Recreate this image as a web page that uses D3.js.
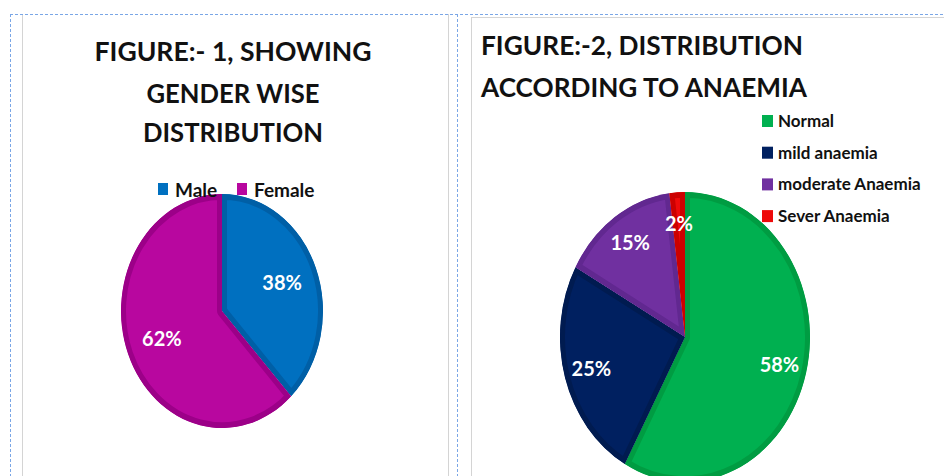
<!DOCTYPE html>
<html lang="en">
<head>
<meta charset="UTF-8">
<title>Gender and Anaemia distribution</title>
<script src="https://d3js.org/d3.v7.min.js"></script>
<style>
  body { margin: 0; background: #fff; }
  text { font-family: Lato, "Open Sans", sans-serif; font-weight: bold; }
  .title { font-size: 27px; fill: #111; }
  .legend { font-size: 17px; fill: #111; }
  .pct { font-size: 20px; fill: #fff; }
</style>
</head>
<body>
<script>
// data
var genderLabels = ["Male", "Female"];
var genderValues = [38, 62];
var anaemiaLabels = ["Normal", "mild anaemia", "moderate Anaemia", "Sever Anaemia"];
var anaemiaValues = [58, 25, 15, 2];

// palette (fill, darker edge)
var genderFill = ["#0070C0", "#B8079F"];
var genderEdge = ["#005FA6", "#9C0088"];
var anaemiaFill = ["#00B050", "#002060", "#7030A0", "#EE0A0A"];
var anaemiaEdge = ["#009C42", "#001B50", "#612890", "#CC0000"];

var width = 944, height = 476;

var svg = d3.select("body").append("svg")
    .attr("width", width)
    .attr("height", height);

var defs = svg.append("defs");

// frames
var frame = svg.append("g");
frame.append("line").attr("x1", 22.5).attr("x2", 22.5).attr("y1", 14).attr("y2", height)
    .attr("stroke", "#d4d4d4");
frame.append("line").attr("x1", 448.5).attr("x2", 448.5).attr("y1", 14).attr("y2", height)
    .attr("stroke", "#d4d4d4");
frame.append("line").attr("x1", 471.5).attr("x2", 471.5).attr("y1", 17).attr("y2", height)
    .attr("stroke", "#d4d4d4");
frame.append("line").attr("x1", 471.5).attr("x2", width).attr("y1", 17.5).attr("y2", 17.5)
    .attr("stroke", "#d4d4d4");
// dashed outline
[[10.5, 14, 10.5, height], [457.5, 14, 457.5, height], [10, 14.5, width, 14.5]].forEach(function(l) {
    frame.append("line")
        .attr("x1", l[0]).attr("y1", l[1]).attr("x2", l[2]).attr("y2", l[3])
        .attr("stroke", "#7aa6e6")
        .attr("stroke-dasharray", "3,2");
});

function drawPie(opts) {
    var pie = d3.pie().sort(null).value(function(d) { return d; });
    var arcs = pie(opts.values);
    var arc = d3.arc().innerRadius(0).outerRadius(opts.rx);
    var labelArc = d3.arc().innerRadius(opts.rx * opts.lf).outerRadius(opts.rx * opts.lf);
    var sy = opts.ry / opts.rx;

    var g = svg.append("g")
        .attr("transform", "translate(" + opts.cx + "," + opts.cy + ") scale(1," + sy + ")");

    arcs.forEach(function(d, i) {
        var id = opts.id + "-clip-" + i;
        // clip each slice to itself so the thick stroke only shows as an inner edge band
        defs.append("clipPath").attr("id", id)
          .append("path").attr("d", arc(d));
        g.append("path")
            .attr("d", arc(d))
            .attr("fill", opts.fill[i])
            .attr("stroke", opts.edge[i])
            .attr("stroke-width", 10)
            .attr("stroke-linejoin", "round")
            .attr("clip-path", "url(#" + id + ")");
    });

    // percentage labels
    svg.append("g").selectAll("text")
        .data(arcs)
        .enter().append("text")
        .attr("class", "pct")
        .attr("x", function(d) { return opts.cx + labelArc.centroid(d)[0]; })
        .attr("y", function(d) { return opts.cy + labelArc.centroid(d)[1] * sy; })
        .attr("text-anchor", "middle")
        .attr("dy", "0.35em")
        .text(function(d) { return d.data + "%"; });
}

// ---- figure 1
var t1 = [["FIGURE:- 1, SHOWING", 61, 277], ["GENDER WISE", 103, 173], ["DISTRIBUTION", 142, 180]];
t1.forEach(function(t) {
    svg.append("text").attr("class", "title")
        .attr("x", 233).attr("y", t[1])
        .attr("text-anchor", "middle")
        .attr("textLength", t[2]).attr("lengthAdjust", "spacingAndGlyphs")
        .text(t[0]);
});

drawPie({ id: "g", values: genderValues, fill: genderFill, edge: genderEdge,
          cx: 222, cy: 311, rx: 101, ry: 117, lf: 0.64 });

var leg1X = [158, 237];
genderLabels.forEach(function(name, i) {
    svg.append("rect").attr("x", leg1X[i]).attr("y", 183).attr("width", 10).attr("height", 12)
        .attr("fill", genderFill[i]);
    svg.append("text").attr("class", "legend")
        .attr("x", leg1X[i] + 17).attr("y", 197)
        .style("font-size", "19px")
        .text(name);
});

// ---- figure 2
var t2 = [["FIGURE:-2, DISTRIBUTION", 55, 322], ["ACCORDING TO ANAEMIA", 97, 326]];
t2.forEach(function(t) {
    svg.append("text").attr("class", "title")
        .attr("x", 481).attr("y", t[1])
        .attr("textLength", t[2]).attr("lengthAdjust", "spacingAndGlyphs")
        .text(t[0]);
});

drawPie({ id: "a", values: anaemiaValues, fill: anaemiaFill, edge: anaemiaEdge,
          cx: 685, cy: 337, rx: 125, ry: 145, lf: 0.78 });

var legend2 = svg.append("g").selectAll("g")
    .data(anaemiaLabels)
    .enter().append("g")
    .attr("transform", function(d, i) { return "translate(762," + (121 + i * 31.7) + ")"; });
legend2.append("rect")
    .attr("x", 0).attr("y", -6).attr("width", 11).attr("height", 12)
    .attr("fill", function(d, i) { return anaemiaFill[i]; });
legend2.append("text").attr("class", "legend")
    .attr("x", 16).attr("dy", "0.35em")
    .text(function(d) { return d; });
</script>
</body>
</html>
